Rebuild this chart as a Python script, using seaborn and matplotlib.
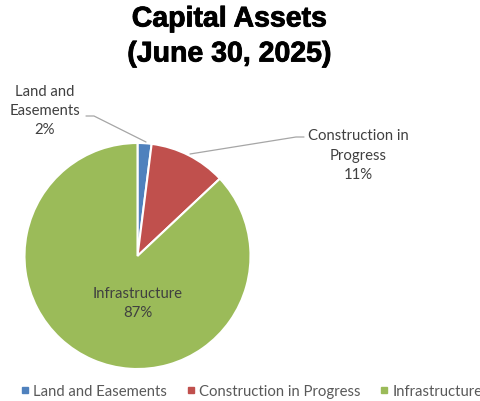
import matplotlib
matplotlib.use("Agg")
import matplotlib.pyplot as plt
import matplotlib.patheffects as pe
from matplotlib.lines import Line2D
import seaborn as sns

categories = ["Land and Easements", "Construction in Progress", "Infrastructure"]
label_text = ["Land and\nEasements", "Construction in\nProgress", "Infrastructure"]
shares = [2, 11, 87]
colors = ["#4F81BD", "#C0504D", "#9BBB59"]

sns.set_theme(style="white")
plt.rcParams["font.family"] = ["Lato", "DejaVu Sans"]

W, H = 481, 402
fig = plt.figure(figsize=(W / 100, H / 100), dpi=100)
fig.patch.set_facecolor("white")

# pie axes: square box centred on the pie
cx, cy, r = 137.5, 257, 113
ax = fig.add_axes([(cx - r) / W, (H - cy - r) / H, 2 * r / W, 2 * r / H])
wedges, _ = ax.pie(shares, colors=colors, startangle=90, counterclock=False,
                   radius=1, wedgeprops=dict(edgecolor="white", linewidth=1.5))
ax.set_xlim(-1, 1)
ax.set_ylim(-1, 1)
ax.axis("off")

def fig_xy(px, py):
    return px / W, 1 - py / H

txt_color = "#404040"
fs = 10.7
ls = 1.5

# Land and Easements (outside, leader line)
fig.text(*fig_xy(45, 111), f"{label_text[0]}\n{shares[0]}%", ha="center", va="center",
         fontsize=fs, color=txt_color, linespacing=ls)
fig.add_artist(Line2D([86 / W, 94 / W, 146 / W], [1 - 117 / H, 1 - 117 / H, 1 - 143 / H],
                      color="#A6A6A6", lw=0.9))

# Construction in Progress (outside, leader line)
fig.text(*fig_xy(358, 156), f"{label_text[1]}\n{shares[1]}%", ha="center", va="center",
         fontsize=fs, color=txt_color, linespacing=ls)
fig.add_artist(Line2D([304 / W, 296 / W, 190 / W], [1 - 138 / H, 1 - 138 / H, 1 - 155 / H],
                      color="#A6A6A6", lw=0.9))

# Infrastructure (inside)
ax.text(0, -0.41, f"{label_text[2]}\n{shares[2]}%", ha="center", va="center",
        fontsize=fs, color=txt_color, linespacing=ls)

fig.text(0.477, 1 - 38 / H, "Capital Assets\n(June 30, 2025)", ha="center", va="center",
         fontsize=20.5, fontweight="bold", color="black", linespacing=1.45,
         family=["Liberation Sans", "DejaVu Sans"],
         path_effects=[pe.withStroke(linewidth=0.6, foreground="black")])

handles = [Line2D([], [], marker="s", linestyle="none", markersize=5,
                  markerfacecolor=c, markeredgecolor=c) for c in colors]
fig.legend(handles, categories, loc="center left", bbox_to_anchor=(20.5 / W, 1 - 392 / H),
           ncol=3, frameon=False, fontsize=fs, labelcolor="#595959",
           handlelength=0.6, handletextpad=0.25, columnspacing=1.3, borderaxespad=0,
           borderpad=0)

fig.savefig("out.png", dpi=100, facecolor="white")
